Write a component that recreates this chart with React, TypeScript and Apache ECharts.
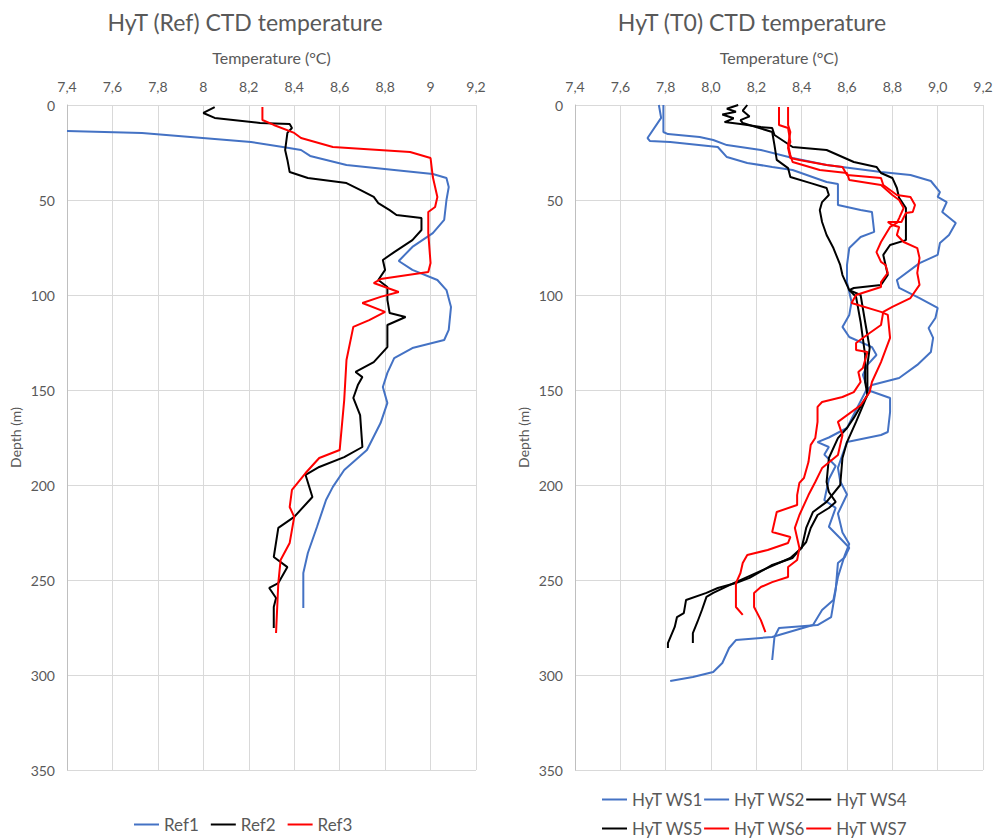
import React, { useEffect, useRef } from "react";
import * as echarts from "echarts";

// [temperature °C, depth m]
const ref1: number[][] = [
  [7.4, 13.7], [7.73, 14.7], [8.21, 19.5], [8.35, 22.1], [8.43, 23.7], [8.47, 26.8],
  [8.63, 31.6], [8.84, 34.2], [9.01, 36.3], [9.07, 38.4], [9.08, 43.2], [9.07, 50],
  [9.06, 60.5], [9.01, 67.4], [8.92, 74.7], [8.86, 82.1], [8.92, 86.8], [9.03, 92.1],
  [9.07, 97.4], [9.09, 106.3], [9.08, 118.4], [9.06, 123.7], [8.92, 127.9], [8.84, 133.2],
  [8.81, 141], [8.79, 148.4], [8.81, 156.8], [8.78, 167.4], [8.72, 181.6], [8.62, 192.1],
  [8.57, 201], [8.54, 207.9], [8.5, 222.1], [8.46, 235.8], [8.44, 246.3], [8.44, 264.7],
];
const ref2: number[][] = [
  [8.05, 1.1], [8.0, 4.2], [8.05, 6.8], [8.25, 9.5], [8.38, 10], [8.39, 12.1],
  [8.37, 14.7], [8.36, 23.7], [8.37, 28.9], [8.38, 35.3], [8.46, 38.4], [8.63, 41.1],
  [8.69, 44.7], [8.75, 48.4], [8.77, 51.6], [8.82, 55.3], [8.85, 57.9], [8.96, 59.5],
  [8.96, 65.8], [8.92, 71.1], [8.84, 77.4], [8.79, 81.6], [8.8, 86.8], [8.77, 92.1],
  [8.81, 95.8], [8.81, 102.6], [8.82, 109.5], [8.89, 111.6], [8.81, 115.8], [8.81, 127.4],
  [8.75, 135.3], [8.67, 140.5], [8.7, 143.2], [8.68, 147.4], [8.66, 154.2], [8.69, 163.2],
  [8.7, 180], [8.62, 185.3], [8.51, 190.5], [8.45, 194.7], [8.48, 206.3], [8.4, 216.8],
  [8.33, 222.6], [8.31, 237.9], [8.37, 243.2], [8.33, 251.6], [8.29, 254.2], [8.32, 259.5],
  [8.31, 264.2], [8.31, 275.3],
];
const ref3: number[][] = [
  [8.26, 1.1], [8.26, 7.9], [8.31, 10.5], [8.4, 14.7], [8.43, 17.4], [8.57, 22.1],
  [8.91, 24.7], [9.0, 27.9], [9.01, 37.9], [9.03, 48.4], [9.02, 53.7], [8.99, 56.3],
  [8.99, 67.4], [9.0, 83.2], [8.99, 87.9], [8.84, 90.5], [8.78, 91.6], [8.75, 93.7],
  [8.86, 98.4], [8.78, 101], [8.7, 104.2], [8.8, 108.9], [8.73, 113.2], [8.66, 116.8],
  [8.63, 134.2], [8.62, 155.3], [8.6, 181.6], [8.51, 185.8], [8.45, 193.7], [8.39, 202.6],
  [8.38, 211.6], [8.4, 216.8], [8.38, 230.5], [8.34, 239.5], [8.33, 251.6], [8.32, 277.9],
];

const ws1: number[][] = [
  [7.79, 0], [7.79, 14.2], [7.81, 15.3], [7.95, 16.8], [8.01, 18.4], [8.07, 21.1],
  [8.22, 23.7], [8.36, 27.9], [8.51, 31.6], [8.75, 35.3], [8.88, 36.8], [8.97, 40],
  [9.01, 45.8], [9.0, 48.4], [9.04, 51.1], [9.02, 56.3], [9.08, 62.1], [9.05, 68.4],
  [9.01, 72.6], [9.0, 78.9], [8.92, 83.2], [8.82, 92.1], [8.83, 96.3], [8.92, 101.6],
  [9.0, 106.8], [8.99, 112.1], [8.96, 117.4], [8.98, 122.6], [8.97, 130], [8.91, 136.8],
  [8.83, 143.7], [8.71, 147.4], [8.69, 150], [8.79, 154.2], [8.79, 161.6], [8.78, 172.1],
  [8.75, 173.7], [8.6, 177.4], [8.58, 184], [8.56, 191], [8.57, 198], [8.6, 205],
  [8.56, 215], [8.58, 225], [8.61, 231], [8.59, 237], [8.56, 248.4], [8.54, 260.5],
  [8.49, 265.8], [8.45, 273.7], [8.27, 280], [8.11, 281.6], [8.08, 285.8], [8.05, 293.7],
  [8.01, 298.4], [7.92, 301.1], [7.82, 303.2],
];
const ws2: number[][] = [
  [7.77, 0], [7.78, 6.8], [7.72, 17.4], [7.73, 18.9], [7.82, 19.5], [8.03, 22.1],
  [8.07, 27.4], [8.16, 30.5], [8.27, 32.6], [8.36, 34.2], [8.51, 40.5], [8.56, 41.6],
  [8.56, 52.6], [8.66, 55.3], [8.71, 56.3], [8.72, 66.8], [8.66, 69.5], [8.61, 75.3],
  [8.6, 84.2], [8.6, 93.2], [8.62, 103.7], [8.61, 110.5], [8.58, 116.8], [8.61, 122.1],
  [8.71, 127.4], [8.73, 131.6], [8.69, 136.8], [8.67, 142.1], [8.69, 148.9], [8.64, 160.5],
  [8.6, 170], [8.52, 175], [8.47, 177.4], [8.52, 180], [8.5, 184], [8.55, 190],
  [8.52, 197], [8.5, 208], [8.55, 212], [8.52, 222], [8.57, 228], [8.61, 233],
  [8.59, 238], [8.56, 241], [8.55, 255.3], [8.53, 269.5], [8.47, 273.7], [8.3, 275.3],
  [8.28, 280], [8.27, 292.1],
];
const ws4: number[][] = [
  [8.12, 0], [8.07, 2], [8.11, 3.5], [8.05, 5], [8.1, 7], [8.06, 9], [8.13, 10],
  [8.22, 11.6], [8.27, 12.1], [8.28, 15.8], [8.36, 22.1], [8.51, 23.7], [8.63, 30],
  [8.73, 32.6], [8.75, 35.8], [8.8, 38.4], [8.82, 43.7], [8.83, 48.9], [8.86, 54.2],
  [8.86, 63.2], [8.86, 71.1], [8.79, 73.7], [8.76, 78.9], [8.77, 84.2], [8.78, 89.5],
  [8.75, 94.7], [8.63, 96.3], [8.61, 97.4], [8.66, 100], [8.68, 114.2], [8.7, 127.9],
  [8.69, 136.8], [8.69, 152.6], [8.63, 164.7], [8.6, 170], [8.56, 175.3], [8.52, 185.8],
  [8.51, 198.4], [8.52, 203.7], [8.55, 208.9], [8.52, 212.1], [8.47, 215.8], [8.44, 222.6],
  [8.42, 230], [8.36, 238.4], [8.27, 242.1], [8.17, 248.9], [8.11, 251.6], [8.03, 254.2],
  [7.98, 256.8], [7.89, 260.5], [7.88, 267.4], [7.85, 269.5], [7.84, 274.7], [7.81, 283.2],
  [7.81, 285.8],
];
const ws5: number[][] = [
  [8.16, 0], [8.14, 3], [8.17, 6], [8.13, 8], [8.14, 9.5], [8.27, 14.2], [8.28, 21.1],
  [8.29, 28.9], [8.34, 33.2], [8.35, 37.9], [8.44, 41.1], [8.51, 43.7], [8.52, 47.4],
  [8.49, 51.1], [8.48, 55.3], [8.49, 61.6], [8.51, 68.4], [8.54, 75.3], [8.57, 84.2],
  [8.58, 89.5], [8.61, 97.4], [8.64, 101], [8.66, 114.2], [8.68, 131.6], [8.68, 145.8],
  [8.69, 152.6], [8.64, 166.8], [8.6, 177.4], [8.58, 185.8], [8.57, 200], [8.51, 208.9],
  [8.45, 214.2], [8.42, 222.6], [8.4, 233.2], [8.35, 238.4], [8.23, 244.7], [8.1, 251.6],
  [8.01, 256.8], [7.98, 258.9], [7.96, 265.8], [7.94, 272.1], [7.92, 277.9], [7.92, 283.2],
];
const ws6: number[][] = [
  [8.3, 1.1], [8.3, 10.5], [8.34, 12.1], [8.35, 19.5], [8.34, 22.6], [8.35, 27.9],
  [8.39, 28.9], [8.51, 31.6], [8.58, 32.6], [8.6, 36.8], [8.75, 38.4], [8.76, 42.1],
  [8.82, 47.4], [8.88, 48.4], [8.9, 52.6], [8.89, 56.3], [8.86, 56.8], [8.84, 61.6],
  [8.78, 61.6], [8.8, 63.2], [8.83, 64.2], [8.82, 68.4], [8.85, 72.1], [8.91, 75.3],
  [8.92, 80.5], [8.91, 88.4], [8.92, 94.7], [8.88, 101.6], [8.8, 106.3], [8.76, 108.9],
  [8.75, 115.8], [8.7, 120], [8.64, 125.3], [8.64, 128.9], [8.69, 130], [8.67, 138.4],
  [8.65, 140.5], [8.66, 145.8], [8.63, 151.1], [8.58, 153.7], [8.49, 156.3], [8.47, 158.9],
  [8.47, 166.8], [8.46, 175.3], [8.44, 178.9], [8.43, 187.9], [8.41, 196.3], [8.39, 198.9],
  [8.38, 205.3], [8.38, 210.5], [8.29, 214.2], [8.27, 224.7], [8.35, 227.4], [8.34, 230.5],
  [8.25, 234.2], [8.16, 236.8], [8.14, 241.1], [8.13, 246.3], [8.11, 251.6], [8.11, 264.2],
  [8.14, 268.4],
];
const ws7: number[][] = [
  [8.34, 1.1], [8.34, 10.5], [8.35, 14.2], [8.34, 21.1], [8.35, 26.3], [8.36, 30],
  [8.48, 34.2], [8.6, 35.8], [8.61, 39.5], [8.75, 42.1], [8.8, 47.4], [8.83, 50],
  [8.85, 54.2], [8.83, 59.5], [8.82, 62.1], [8.79, 64.2], [8.75, 72.1], [8.73, 77.4],
  [8.75, 82.6], [8.77, 84.2], [8.78, 88.4], [8.75, 93.2], [8.75, 95.8], [8.64, 100],
  [8.62, 104.2], [8.75, 108.9], [8.78, 110.5], [8.79, 122.6], [8.75, 135.3], [8.71, 145.8],
  [8.7, 151.1], [8.66, 158], [8.56, 166.8], [8.58, 173.7], [8.56, 184.2], [8.49, 191.1],
  [8.46, 198.4], [8.43, 205.3], [8.39, 215.8], [8.37, 222.6], [8.39, 233.2], [8.38, 239.5],
  [8.34, 243.2], [8.34, 248.4], [8.27, 251.1], [8.22, 253.7], [8.19, 256.8], [8.19, 264.2],
  [8.22, 271.1], [8.24, 277.4],
];

const refNames = ["Ref1", "Ref2", "Ref3"];
const refData = [ref1, ref2, ref3];
const wsNames = ["HyT WS1", "HyT WS2", "HyT WS4", "HyT WS5", "HyT WS6", "HyT WS7"];
const wsData = [ws1, ws2, ws4, ws5, ws6, ws7];

const BLUE = "#4472C4";
const BLACK = "#000000";
const RED = "#FF0000";
const refColors = [BLUE, BLACK, RED];
const wsColors = [BLUE, BLUE, BLACK, BLACK, RED, RED];

const FONT = "Lato, 'Noto Sans', sans-serif";
const GREY = "#595959";

export default function App() {
  const ref = useRef<HTMLDivElement>(null);

  useEffect(() => {
    if (!ref.current) return;
    const chart = echarts.init(ref.current, null, { renderer: "svg" });

    const xAxis = (gridIndex: number, fmt: (v: number) => string) => ({
      type: "value" as const,
      gridIndex,
      position: "top" as const,
      min: 7.4,
      max: 9.2,
      interval: 0.2,
      name: "Temperature (°C)",
      nameLocation: "middle" as const,
      nameGap: 40,
      nameTextStyle: { color: GREY, fontSize: 16, fontFamily: FONT },
      axisLine: { show: false },
      axisTick: { show: false },
      axisLabel: { color: GREY, fontSize: 14, fontFamily: FONT, margin: 12, formatter: fmt },
      splitLine: { lineStyle: { color: "#d9d9d9", width: 1 } },
    });

    const yAxis = (gridIndex: number) => ({
      type: "value" as const,
      gridIndex,
      inverse: true,
      min: 0,
      max: 350,
      interval: 50,
      name: "Depth (m)",
      nameLocation: "middle" as const,
      nameGap: 45,
      nameTextStyle: { color: GREY, fontSize: 14, fontFamily: FONT },
      axisLine: { show: true, lineStyle: { color: "#bfbfbf" } },
      axisTick: { show: false },
      axisLabel: { color: GREY, fontSize: 14, fontFamily: FONT, margin: 12 },
      splitLine: { lineStyle: { color: "#d9d9d9", width: 1 } },
    });

    const legendBase = {
      icon: "rect",
      itemWidth: 25,
      itemHeight: 2,
      padding: 0,
      textStyle: { color: GREY, fontSize: 17, fontFamily: FONT },
    };

    const option: echarts.EChartsOption = {
      animation: false,
      backgroundColor: "#ffffff",
      graphic: [
        {
          type: "text",
          x: 245,
          y: 22,
          style: {
            text: "HyT (Ref) CTD temperature",
            align: "center",
            verticalAlign: "middle",
            fill: GREY,
            font: `23px ${FONT}`,
          },
        },
        {
          type: "text",
          x: 752,
          y: 22,
          style: {
            text: "HyT (T0) CTD temperature",
            align: "center",
            verticalAlign: "middle",
            fill: GREY,
            font: `23px ${FONT}`,
          },
        },
      ],
      grid: [
        { left: 67, top: 105, width: 409, height: 665 },
        { left: 575, top: 105, width: 408, height: 665 },
      ],
      xAxis: [
        xAxis(0, (v: number) => String(Math.round(v * 10) / 10).replace(".", ",")),
        xAxis(1, (v: number) => v.toFixed(1).replace(".", ",")),
      ],
      yAxis: [yAxis(0), yAxis(1)],
      legend: [
        { ...legendBase, data: refNames, left: 134, top: 816, itemGap: 12 },
        { ...legendBase, data: wsNames.slice(0, 3), left: 602, top: 791, itemGap: 1 },
        { ...legendBase, data: wsNames.slice(3), left: 602, top: 820, itemGap: 1 },
      ],
      series: [
        ...refNames.map((name, i) => ({
          name,
          type: "line" as const,
          xAxisIndex: 0,
          yAxisIndex: 0,
          data: refData[i],
          symbol: "none",
          lineStyle: { color: refColors[i], width: 2 },
          itemStyle: { color: refColors[i] },
        })),
        ...wsNames.map((name, i) => ({
          name,
          type: "line" as const,
          xAxisIndex: 1,
          yAxisIndex: 1,
          data: wsData[i],
          symbol: "none",
          lineStyle: { color: wsColors[i], width: 2 },
          itemStyle: { color: wsColors[i] },
        })),
      ],
    };

    chart.setOption(option);
    return () => chart.dispose();
  }, []);

  return (
    <div
      ref={ref}
      style={{ position: "absolute", left: 0, top: 0, width: 998, height: 840 }}
    />
  );
}
